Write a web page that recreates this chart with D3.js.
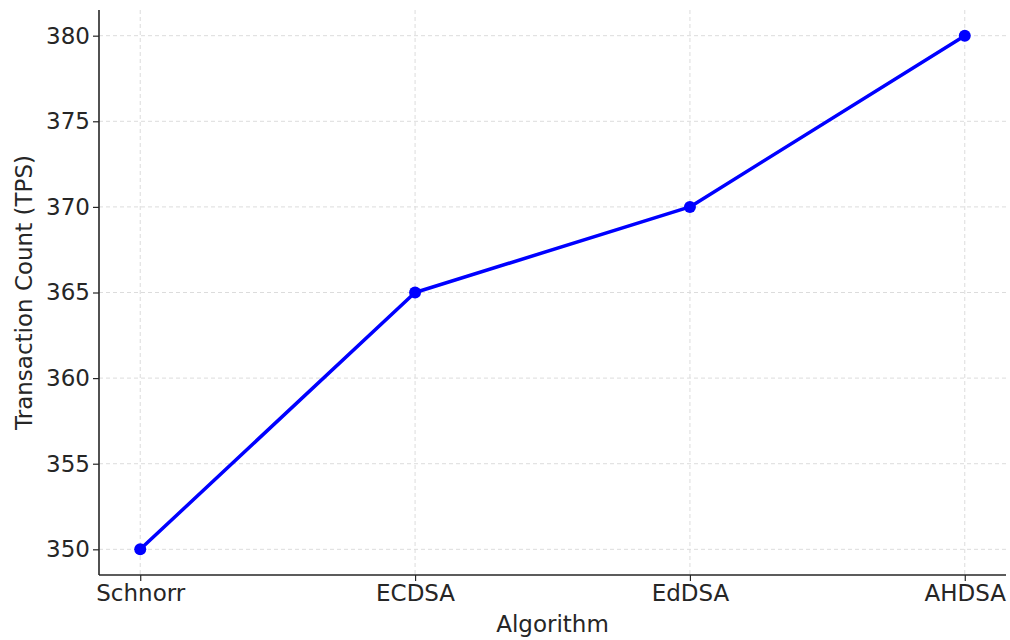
<!DOCTYPE html>
<html><head><meta charset="utf-8">
<script src="https://cdn.jsdelivr.net/npm/d3@7"></script>
<style>body{margin:0;background:#fff}svg{display:block}</style>
</head><body>
<svg id="c" width="1010" height="640"></svg>
<script>
const categories = ["Schnorr","ECDSA","EdDSA","AHDSA"];
const values = [350, 365, 370, 380];
const yTicks = [350, 355, 360, 365, 370, 375, 380];
const xLabel = "Algorithm";
const yLabel = "Transaction Count (TPS)";

const svg = d3.select("#c");
const L = 99, R = 1006, T = 10, B = 575;
const x = d3.scaleLinear().domain([-0.15, 3.15]).range([L, R]);
const y = d3.scaleLinear().domain([348.5, 381.5]).range([B, T]);
const font = "DejaVu Sans, sans-serif";
const tc = "#262626";
const fs = 23;

// grid
const g = svg.append("g");
g.selectAll(".gx").data(categories).join("line")
  .attr("x1",(d,i)=>x(i)).attr("x2",(d,i)=>x(i)).attr("y1",T).attr("y2",B)
  .attr("stroke","#dcdcdc").attr("stroke-width",1).attr("stroke-dasharray","4,3");
g.selectAll(".gy").data(yTicks).join("line")
  .attr("x1",L).attr("x2",R).attr("y1",d=>y(d)).attr("y2",d=>y(d))
  .attr("stroke","#dcdcdc").attr("stroke-width",1).attr("stroke-dasharray","4,3");

// axes
const xAxis = d3.axisBottom(x).tickValues(d3.range(categories.length))
  .tickFormat(i=>categories[i]).tickSize(6).tickPadding(4);
const ax = svg.append("g").attr("transform",`translate(0,${B})`).call(xAxis);
ax.select(".domain").remove();
ax.append("line").attr("x1",L).attr("x2",R).attr("stroke",tc).attr("stroke-width",1.6);
ax.selectAll("text").attr("font-family",font).attr("font-size",fs).attr("fill",tc);
ax.selectAll(".tick line").attr("stroke",tc).attr("stroke-width",1.2);

const yAxis = d3.axisLeft(y).tickValues(yTicks).tickSize(6).tickPadding(3);
const ay = svg.append("g").attr("transform",`translate(${L},0)`).call(yAxis);
ay.select(".domain").remove();
ay.append("line").attr("y1",T).attr("y2",B).attr("stroke",tc).attr("stroke-width",1.6);
ay.selectAll("text").attr("font-family",font).attr("font-size",fs).attr("fill",tc);
ay.selectAll(".tick line").attr("stroke",tc).attr("stroke-width",1.2);

// labels
svg.append("text").attr("x",(L+R)/2).attr("y",632).attr("text-anchor","middle")
  .attr("font-family",font).attr("font-size",fs).attr("fill",tc).text(xLabel);
svg.append("text").attr("transform",`translate(32,${(T+B)/2}) rotate(-90)`)
  .attr("text-anchor","middle").attr("font-family",font).attr("font-size",fs).attr("fill",tc).text(yLabel);

// line
const line = d3.line().x((d,i)=>x(i)).y(d=>y(d));
svg.append("path").datum(values).attr("d",line).attr("fill","none")
  .attr("stroke","#0000ff").attr("stroke-width",3.5).attr("stroke-linejoin","round");
svg.selectAll(".pt").data(values).join("circle")
  .attr("cx",(d,i)=>x(i)).attr("cy",d=>y(d)).attr("r",6).attr("fill","#0000ff");
</script>
</body></html>
